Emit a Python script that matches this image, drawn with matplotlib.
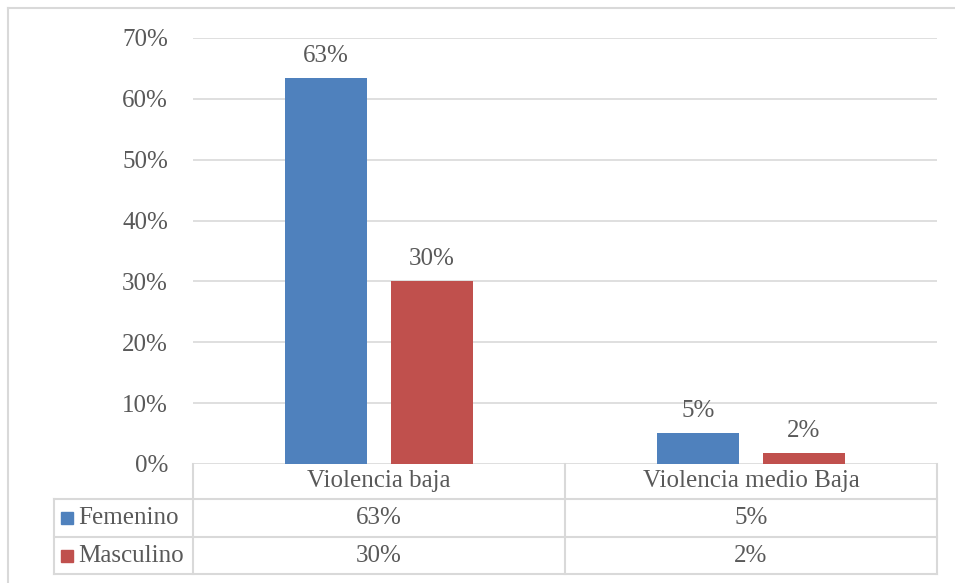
import matplotlib
matplotlib.use("Agg")
import matplotlib.pyplot as plt
from matplotlib.patches import Rectangle
from matplotlib.lines import Line2D
import matplotlib.transforms as mtrans
import numpy as np

categories = ["Violencia baja", "Violencia medio Baja"]
series_names = ["Femenino", "Masculino"]
femenino = [0.634, 0.051]
masculino = [0.300, 0.018]
fem_labels = ["63%", "5%"]
masc_labels = ["30%", "2%"]
yticks = [0, 0.1, 0.2, 0.3, 0.4, 0.5, 0.6, 0.7]
ytick_labels = ["0%", "10%", "20%", "30%", "40%", "50%", "60%", "70%"]

colors = ["#4F81BD", "#C0504D"]
grid_c = "#D9D9D9"
text_c = "#595959"
plt.rcParams["font.family"] = ["Liberation Serif", "DejaVu Serif"]
FS = 18

W, H = 955, 583
fig = plt.figure(figsize=(W / 100, H / 100), dpi=100)

L, R, T, B = 193, 937, 38, 464
ax = fig.add_axes([L / W, (H - B) / H, (R - L) / W, (B - T) / H])
ax.set_xlim(-0.5, 1.5)
ax.set_ylim(0, 0.7)
for s in ax.spines.values():
    s.set_visible(False)
ax.set_xticks([])
ax.set_yticks(yticks)
ax.set_yticklabels(ytick_labels, fontsize=FS, color=text_c)
ax.tick_params(axis="y", length=0, pad=18)
for y in yticks:
    ax.axhline(y, color=grid_c, lw=1.2, zorder=0)

x = np.arange(len(categories))
bw = 0.223
off = 0.1425
b1 = ax.bar(x - off, femenino, bw, color=colors[0], zorder=2)
b2 = ax.bar(x + off, masculino, bw, color=colors[1], zorder=2)
for bars, labs in ((b1, fem_labels), (b2, masc_labels)):
    for r, lab in zip(bars, labs):
        ax.annotate(lab, (r.get_x() + r.get_width() / 2, r.get_height()),
                    xytext=(0, 8), textcoords="offset points", ha="center",
                    va="bottom", fontsize=FS, color=text_c)

# data table
def ax_pt(px, py):
    return (px - L) / (R - L), (B - py) / (B - T)

tr = ax.transAxes
def hline(py, x0, x1):
    a0 = ax_pt(x0, py); a1 = ax_pt(x1, py)
    ax.plot([a0[0], a1[0]], [a0[1], a1[1]], transform=tr, color=grid_c, lw=1.5, clip_on=False)
def vline(px, y0, y1):
    a0 = ax_pt(px, y0); a1 = ax_pt(px, y1)
    ax.plot([a0[0], a1[0]], [a0[1], a1[1]], transform=tr, color=grid_c, lw=1.5, clip_on=False)

rows_y = [464, 499, 537, 574]
TL = 54
hline(499, TL, R); hline(537, TL, R); hline(574, TL, R)
vline(L, 464, 574); vline(R, 464, 574); vline(TL, 499, 574)
mid_px = L + (R - L) / 2
vline(mid_px, 464, 574)

blend = mtrans.blended_transform_factory(ax.transData, ax.transAxes)
centers = [(rows_y[i] + rows_y[i + 1]) / 2 for i in range(3)]
for i, c in enumerate(categories):
    ax.text(x[i], ax_pt(0, centers[0])[1], c, transform=blend, ha="center", va="center",
            fontsize=FS, color=text_c)
for r, vals_lab in enumerate([fem_labels, masc_labels]):
    for i, lab in enumerate(vals_lab):
        ax.text(x[i], ax_pt(0, centers[r + 1])[1], lab, transform=blend, ha="center",
                va="center", fontsize=FS, color=text_c)
for r, name in enumerate(series_names):
    cy = centers[r + 1]
    sx, sy = ax_pt(61, cy + 6)
    ex, ey = ax_pt(73, cy - 6)
    ax.add_patch(Rectangle((sx, sy), ex - sx, ey - sy, transform=tr, color=colors[r], clip_on=False))
    tx, ty = ax_pt(78, cy)
    ax.text(tx, ty, name, transform=tr, ha="left", va="center", fontsize=FS, color=text_c)

# outer border (top and left only visible)
fig.lines.append(Line2D([8 / W, 8 / W], [0, 1 - 8 / H], transform=fig.transFigure, color=grid_c, lw=1.5))
fig.lines.append(Line2D([8 / W, 1], [1 - 8 / H, 1 - 8 / H], transform=fig.transFigure, color=grid_c, lw=1.5))

fig.savefig("out.png", dpi=100)
